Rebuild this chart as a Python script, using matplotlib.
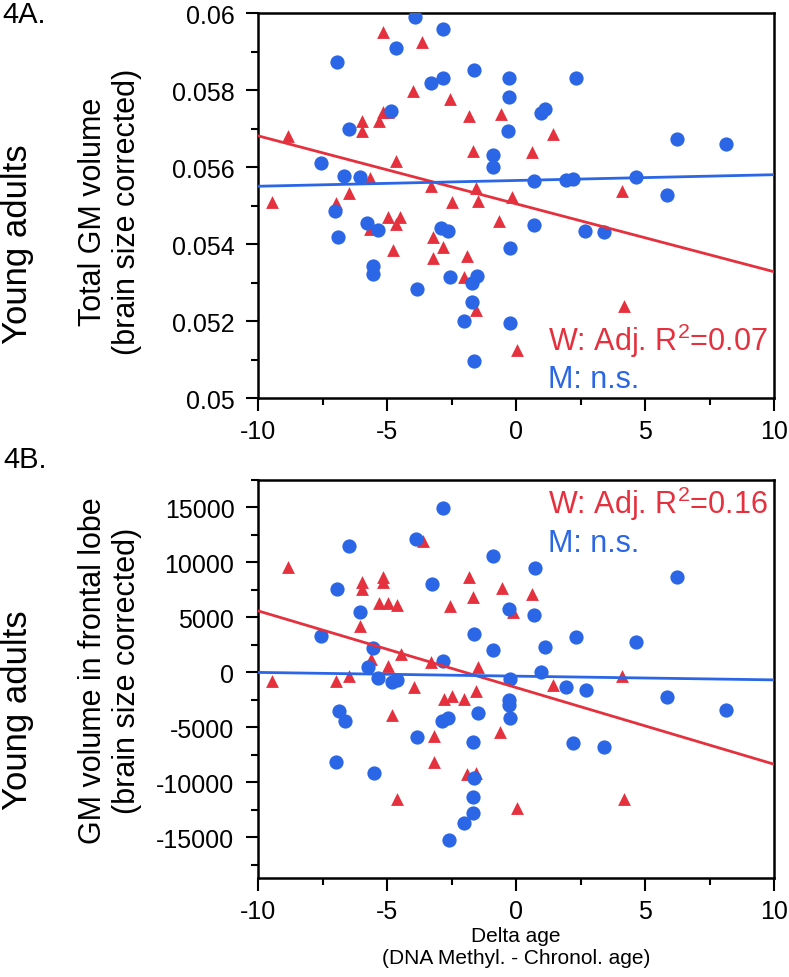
import matplotlib
matplotlib.use("Agg")
import matplotlib.pyplot as plt
from matplotlib.ticker import MultipleLocator

plt.rcParams["font.family"] = ["Liberation Sans", "DejaVu Sans"]
plt.rcParams["axes.unicode_minus"] = False
plt.rcParams["mathtext.fontset"] = "custom"
plt.rcParams["mathtext.rm"] = "Liberation Sans"

RED = "#E5303E"
BLUE = "#2A66E6"

# ---- panel 4A: total GM volume ----
a_w_x = [-5.14, -3.66, -3.98, -2.56, -1.81, -0.58, -5.14, -4.97, -5.31, -5.98,
         -5.98, -8.83, -1.65, -4.64, -5.65, -3.31, -1.55, -0.17, -6.46, -9.47,
         -6.98, -2.49, -1.49, 1.42, 0.61, 4.10, -4.97, -4.48, -4.64, -5.65,
         -3.23, -2.82, -4.77, -3.23, -1.90, -2.00, -1.56, -0.65, 0.03, 4.19]
a_w_y = [0.05950, 0.05924, 0.05798, 0.05777, 0.05732, 0.05738, 0.05744, 0.05744, 0.05719, 0.05720,
         0.05693, 0.05681, 0.05642, 0.05615, 0.05571, 0.05550, 0.05545, 0.05523, 0.05532, 0.05508,
         0.05506, 0.05508, 0.05512, 0.05687, 0.05638, 0.05537, 0.05469, 0.05469, 0.05452, 0.05440,
         0.05419, 0.05391, 0.05385, 0.05363, 0.05370, 0.05313, 0.05229, 0.05459, 0.05125, 0.05240]

a_m_x = [-3.91, -2.84, -4.64, -6.94, -1.62, -3.29, -2.84, -0.26, -0.27, -4.83,
         -6.46, -0.30, -7.57, -0.90, -0.90, -6.67, -6.06, 2.33, 0.97, 1.12,
         6.23, 8.13, 0.70, 1.93, 2.22, 4.64, 5.84, -7.02, -6.91, -5.76,
         -5.36, -5.54, -5.54, -3.85, -2.91, -2.65, -2.56, -1.69, -1.50, -1.69,
         -2.02, -0.24, -1.63, -0.24, 0.70, 2.69, 3.41]
a_m_y = [0.05989, 0.05958, 0.05908, 0.05872, 0.05852, 0.05818, 0.05832, 0.05831, 0.05782, 0.05745,
         0.05699, 0.05694, 0.05611, 0.05632, 0.05599, 0.05576, 0.05573, 0.05832, 0.05740, 0.05750,
         0.05672, 0.05660, 0.05564, 0.05567, 0.05570, 0.05573, 0.05527, 0.05485, 0.05419, 0.05454,
         0.05436, 0.05342, 0.05322, 0.05283, 0.05441, 0.05434, 0.05315, 0.05298, 0.05318, 0.05250,
         0.05199, 0.05195, 0.05097, 0.05390, 0.05450, 0.05434, 0.05432]

# fitted lines: (value at x=-10, value at x=10)
a_fit_w = [0.05681, 0.05328]
a_fit_m = [0.05550, 0.05580]

# ---- panel 4B: GM volume in frontal lobe ----
b_w_x = [-8.83, -5.98, -5.98, -5.14, -5.14, -3.62, -1.81, -1.65, -0.55, -5.31,
         -4.97, -4.62, -2.55, -0.13, -6.05, 0.61, -5.62, -4.97, -4.47, -3.31,
         -1.46, -9.47, -6.98, -6.46, -3.96, -2.79, -2.47, -2.00, -1.55, -4.82,
         -3.19, -0.62, -3.19, -1.88, -1.56, -4.62, 1.45, 4.10, 4.19, 0.05]
b_w_y = [9617, 8254, 7590, 8654, 8199, 11981, 8654, 6890, 7654, 6318,
         6318, 6136, 6072, 5472, 4254, 7108, 1227, 618, 1682, 927,
         473, -745, -745, -345, -1345, -2409, -2109, -2409, -1654, -3863,
         -5745, -5436, -8163, -9227, -9136, -11500, -1136, -345, -11500, -12300]

b_m_x = [-2.82, -6.46, -3.89, -0.90, -6.93, -3.27, -6.06, -0.26, 0.74, 6.25,
         0.71, -7.56, -5.54, -2.83, -1.62, -0.90, -5.75, -5.36, -4.82, -4.60,
         -0.23, -6.87, -6.64, -3.83, -2.88, -2.62, -1.48, -0.27, -0.27, -0.23,
         -1.68, -6.99, -5.50, -1.62, 1.12, 2.33, 4.65, 0.97, 1.93, 2.70,
         5.86, 8.13, 2.22, 3.42, -1.65, -1.65, -2.00, -2.60]
b_m_y = [14926, 11499, 12135, 10590, 7590, 8017, 5527, 5772, 9472, 8654,
         5254, 3345, 2200, 1073, 3500, 2073, 473, -473, -836, -682,
         -591, -3527, -4436, -5890, -4381, -4163, -3709, -2500, -2954, -4136,
         -6290, -8163, -9163, -9617, 2290, 3200, 2800, 18, -1345, -1591,
         -2254, -3381, -6409, -6745, -11300, -12800, -13700, -15200]

b_fit_w = [5600, -8350]
b_fit_m = [0, -680]

fit_x = [-10, 10]

fig = plt.figure(figsize=(7.89, 9.78), dpi=100)
ax_a = fig.add_axes([258 / 789, 1 - 399 / 978, 516 / 789, 385 / 978])
ax_b = fig.add_axes([258 / 789, 1 - 879 / 978, 516 / 789, 398 / 978])

panels = [
    (ax_a, a_w_x, a_w_y, a_m_x, a_m_y, a_fit_w, a_fit_m),
    (ax_b, b_w_x, b_w_y, b_m_x, b_m_y, b_fit_w, b_fit_m),
]

for ax, wx, wy, mx, my, fw, fm in panels:
    ax.scatter(wx, wy, marker="^", s=85, color=RED, linewidths=0, zorder=3)
    ax.scatter(mx, my, marker="o", s=105, color=BLUE, linewidths=0, zorder=3)
    ax.plot(fit_x, fw, color=RED, lw=2, zorder=4)
    ax.plot(fit_x, fm, color=BLUE, lw=2, zorder=4)
    ax.set_xlim(-10, 10)
    ax.xaxis.set_major_locator(MultipleLocator(5))
    ax.xaxis.set_minor_locator(MultipleLocator(2.5))
    for sp in ax.spines.values():
        sp.set_linewidth(1.8)
    ax.tick_params(which="major", length=9, width=1.5, labelsize=18, pad=6)
    ax.tick_params(which="minor", length=5, width=1.5)
    ax.tick_params(axis="y", pad=8)

ax_a.set_ylim(0.05, 0.06)
ax_a.set_yticks([0.05, 0.052, 0.054, 0.056, 0.058, 0.06])
ax_a.set_yticklabels(["0.05", "0.052", "0.054", "0.056", "0.058", "0.06"])
ax_a.yaxis.set_minor_locator(MultipleLocator(0.001))

ax_b.set_ylim(-18700, 17500)
ax_b.yaxis.set_major_locator(MultipleLocator(5000))
ax_b.yaxis.set_minor_locator(MultipleLocator(2500))

# stats text
ax_a.text(548 / 789, 1 - 341 / 978, r"W: Adj. R$^{2}$=0.07", transform=fig.transFigure,
          color=RED, fontsize=22, va="center", ha="left")
ax_a.text(548 / 789, 1 - 380 / 978, "M: n.s.", transform=fig.transFigure,
          color=BLUE, fontsize=22, va="center", ha="left")
ax_b.text(548 / 789, 1 - 504 / 978, r"W: Adj. R$^{2}$=0.16", transform=fig.transFigure,
          color=RED, fontsize=22, va="center", ha="left")
ax_b.text(548 / 789, 1 - 544 / 978, "M: n.s.", transform=fig.transFigure,
          color=BLUE, fontsize=22, va="center", ha="left")

# panel letters and side labels
fig.text(24 / 789, 1 - 15 / 978, "4A.", fontsize=21, ha="center", va="center")
fig.text(25 / 789, 1 - 460 / 978, "4B.", fontsize=21, ha="center", va="center")
fig.text(18 / 789, 1 - 244 / 978, "Young adults", fontsize=25, rotation=90,
         ha="center", va="center")
fig.text(18 / 789, 1 - 710 / 978, "Young adults", fontsize=25, rotation=90,
         ha="center", va="center")
fig.text(110 / 789, 1 - 212 / 978, "Total GM volume\n(brain size corrected)",
         fontsize=22, rotation=90, ha="center", va="center", linespacing=1.15)
fig.text(110 / 789, 1 - 671 / 978, "GM volume in frontal lobe\n(brain size corrected)",
         fontsize=22, rotation=90, ha="center", va="center", linespacing=1.15)

ax_b.set_xlabel("Delta age\n(DNA Methyl. - Chronol. age)", fontsize=15, labelpad=2,
                linespacing=1.25)

fig.savefig("out.png", dpi=100)
